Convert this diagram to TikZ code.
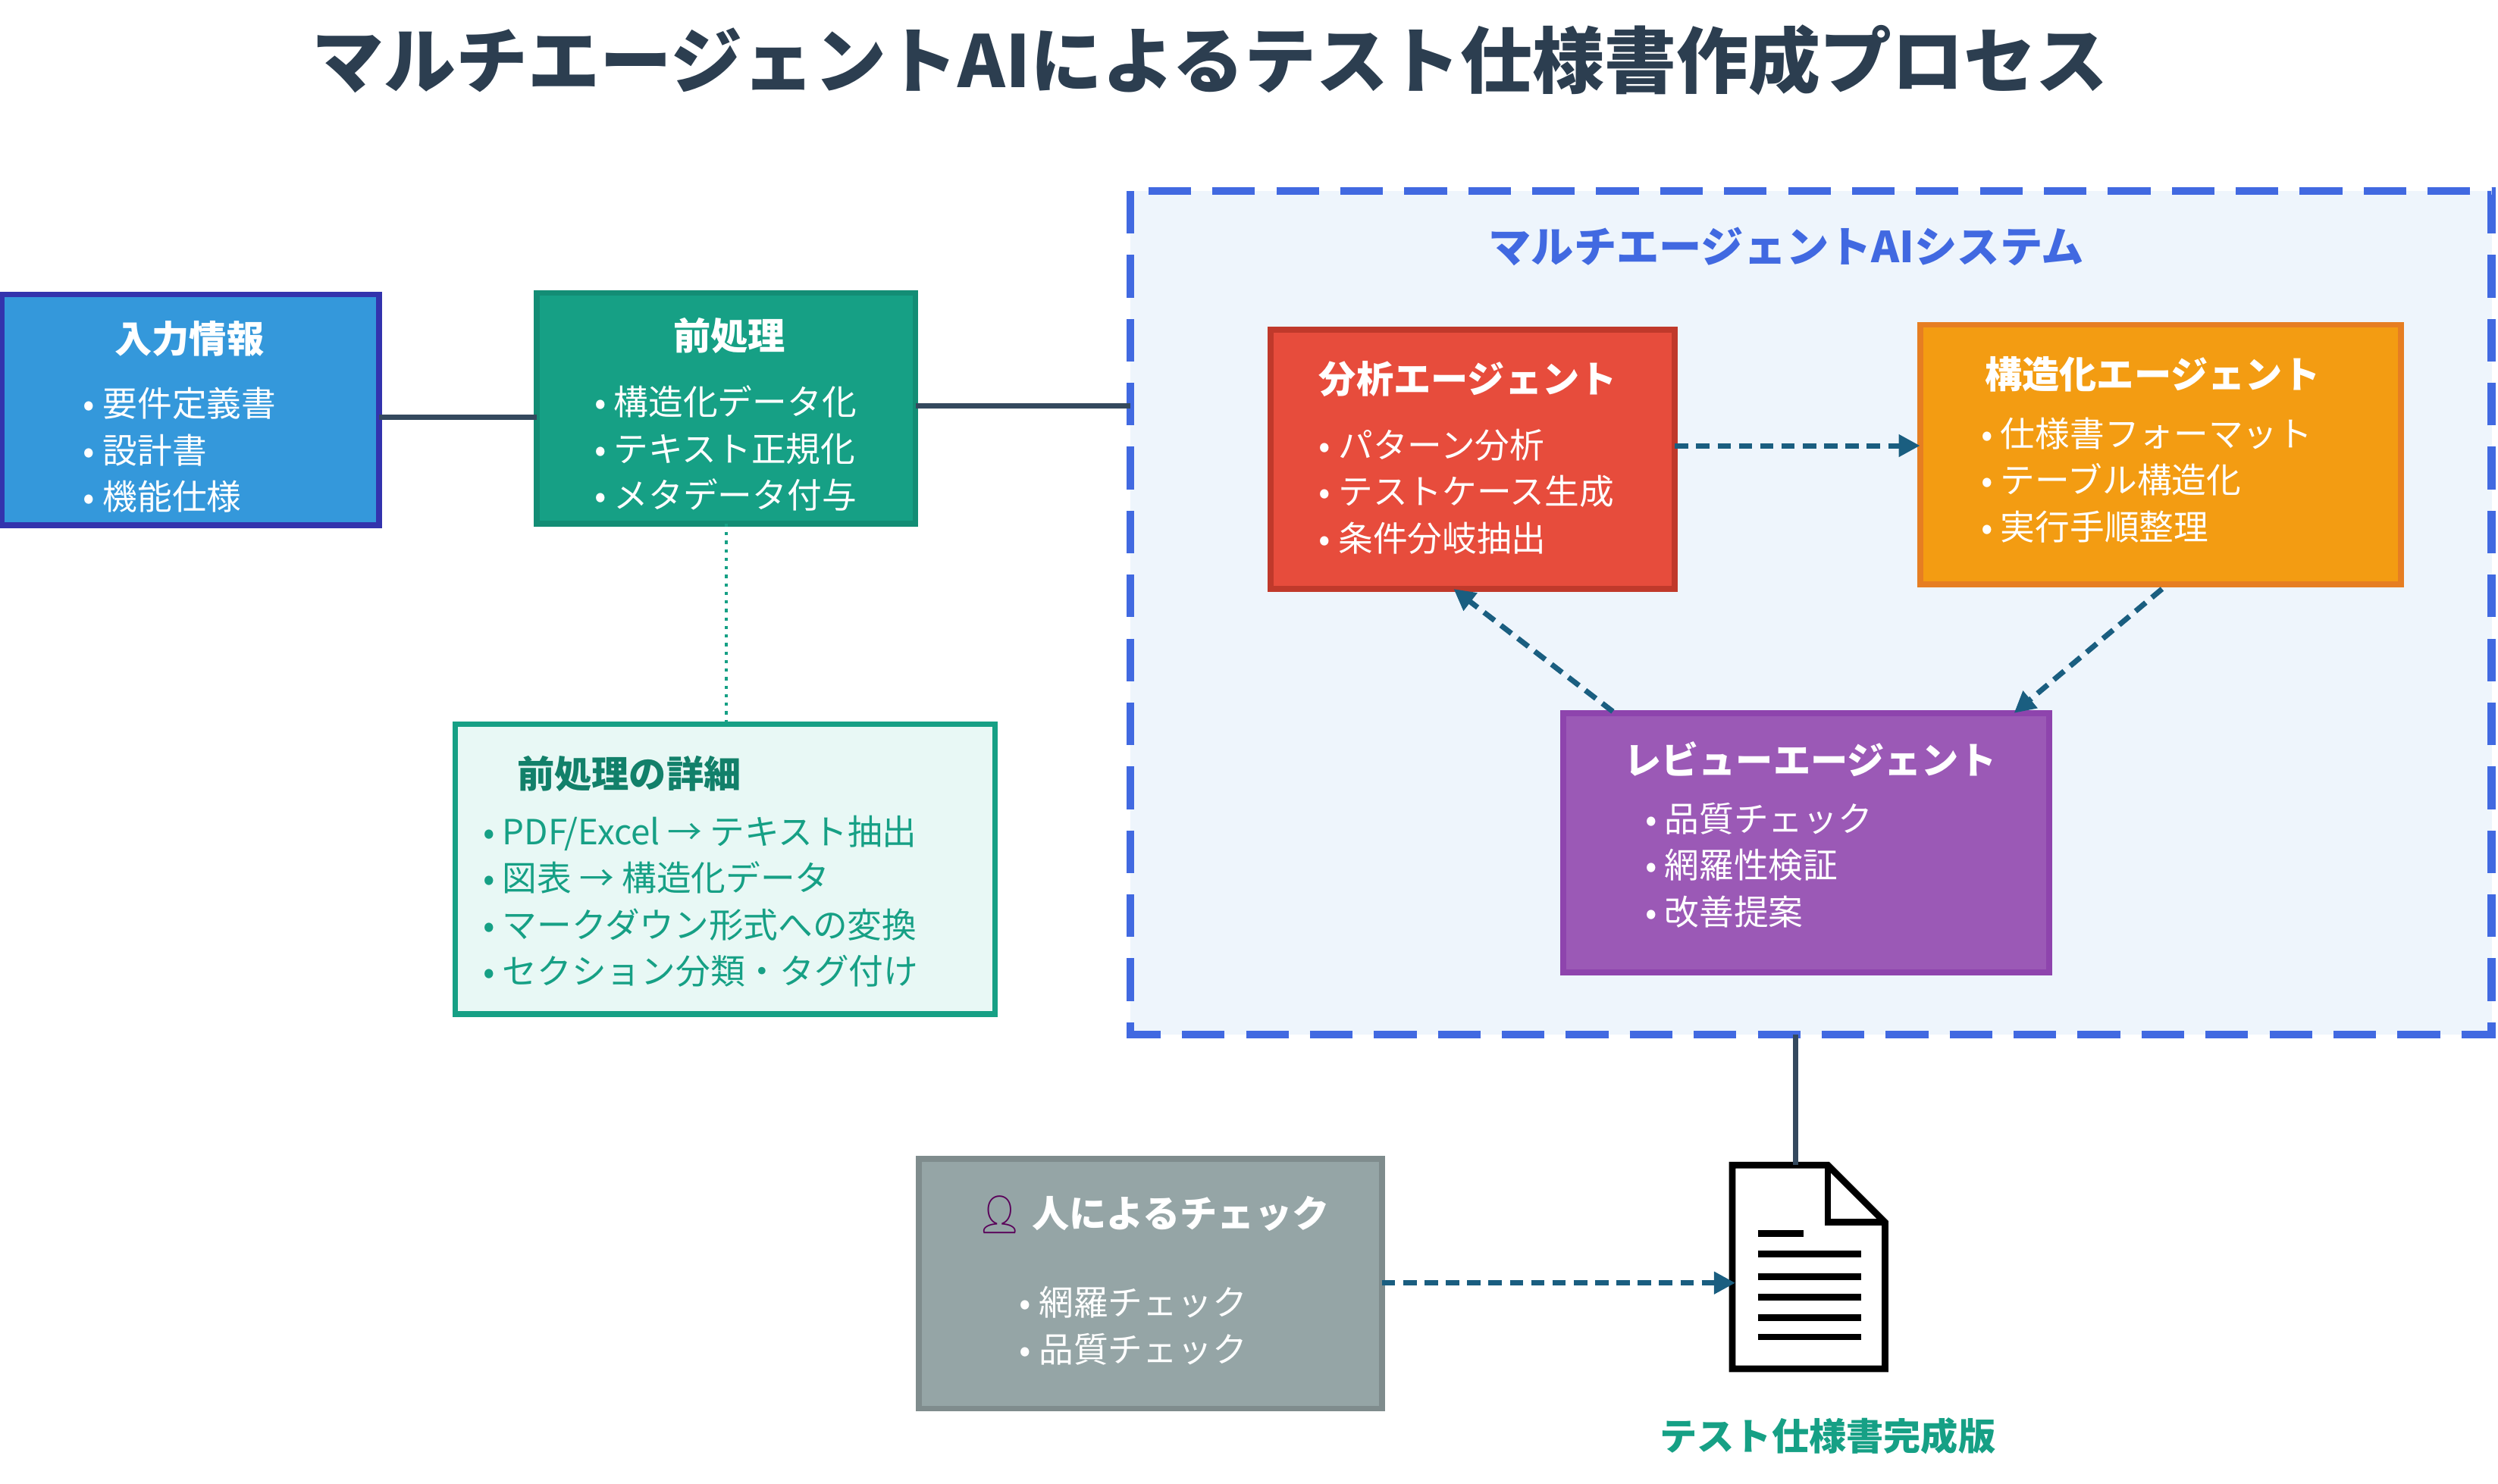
\documentclass[tikz,border=0pt]{standalone}
\usepackage{fontspec}
\setmainfont{Noto Sans CJK JP}
\newfontfamily\emo{Noto Emoji}
\usetikzlibrary{arrows.meta}
\definecolor{ttl}{HTML}{2C3E50}
\definecolor{ln}{HTML}{34495E}
\definecolor{arr}{HTML}{1A5E80}
\definecolor{sysb}{HTML}{4169E1}
\definecolor{sysf}{HTML}{EEF5FC}
\definecolor{grn}{HTML}{16A085}
\tikzset{
 x=0.021cm,y=-0.021cm,
 box/.style={draw, line width=2.2pt, inner sep=0},
 hd/.style={font=\fontsize{14}{16}\selectfont\bfseries, text=white},
 bl/.style={font=\fontsize{13}{17.5}\selectfont, text=white, align=left, anchor=north west, inner sep=0},
 darr/.style={draw=arr, line width=2pt, dashed, dash pattern=on 5pt off 3pt, -{Triangle[length=8pt,width=8pt]}},
 solid line/.style={draw=ln, line width=2pt}
}
\begin{document}
\begin{tikzpicture}
\useasboundingbox (0,0) rectangle (1569,932);
\node[font=\fontsize{27}{30}\selectfont\bfseries, text=ttl] (title) at (760,38) {マルチエージェントAIによるテスト仕様書作成プロセス};
% system
\path[draw=sysb, fill=sysf, line width=3pt, dash pattern=on 16pt off 8pt] (710,120) rectangle (1565,650);
\coordinate (sysL) at (710,255);
\coordinate (sysB) at (1128,650);
\node[font=\fontsize{16}{18}\selectfont\bfseries, text=sysb] (systitle) at (1122,155) {マルチエージェントAIシステム};
% input
\draw[box, draw=blue!60!black!80, fill={rgb,255:red,52;green,152;blue,219}] (1,185) rectangle (238,330);
\coordinate (inR) at (238,262);
\node[hd] (inT) at (119,213) {入力情報};
\node[bl] (inB) at (52,243) {• 要件定義書\\• 設計書\\• 機能仕様};
% preprocess
\draw[box, draw={rgb,255:red,19;green,141;blue,117}, fill=grn] (337,184) rectangle (575,329);
\coordinate (ppL) at (337,262);
\coordinate (ppR) at (575,255);
\coordinate (ppB) at (456,329);
\node[hd] (ppT) at (458,211) {前処理};
\node[bl] (ppB2) at (373,242) {• 構造化データ化\\• テキスト正規化\\• メタデータ付与};
% detail
\draw[box, draw=grn, fill={rgb,255:red,232;green,248;blue,245}] (286,455) rectangle (625,637);
\coordinate (dtT) at (456,455);
\node[hd, text=grn!80!black, anchor=west] (dtH) at (319,486) {前処理の詳細};
\node[bl, text=grn] (dtB) at (303,512) {• PDF/Excel → テキスト抽出\\• 図表 → 構造化データ\\• マークダウン形式への変換\\• セクション分類・タグ付け};
% analysis
\draw[box, draw={rgb,255:red,192;green,57;blue,43}, fill={rgb,255:red,231;green,76;blue,60}] (798,207) rectangle (1052,370);
\coordinate (anR) at (1052,280);
\coordinate (anB) at (913,370);
\node[hd] (anT) at (922,238) {分析エージェント};
\node[bl] (anB2) at (828,269) {• パターン分析\\• テストケース生成\\• 条件分岐抽出};
% structure
\draw[box, draw={rgb,255:red,230;green,126;blue,34}, fill={rgb,255:red,243;green,156;blue,18}] (1206,204) rectangle (1508,367);
\coordinate (stL) at (1206,280);
\coordinate (stB) at (1358,370);
\node[hd] (stT) at (1352,235) {構造化エージェント};
\node[bl] (stB2) at (1244,262) {• 仕様書フォーマット\\• テーブル構造化\\• 実行手順整理};
% review
\draw[box, draw={rgb,255:red,142;green,68;blue,173}, fill={rgb,255:red,155;green,89;blue,182}] (982,448) rectangle (1287,611);
\coordinate (rvTR) at (1265,448);
\coordinate (rvTL) at (1013,447);
\node[hd] (rvT) at (1137,477) {レビューエージェント};
\node[bl] (rvB) at (1033,504) {• 品質チェック\\• 網羅性検証\\• 改善提案};
% human
\draw[box, draw={rgb,255:red,127;green,140;blue,141}, fill={rgb,255:red,149;green,165;blue,166}] (577,728) rectangle (868,885);
\coordinate (huR) at (868,806);
\node[hd] (huT) at (724,763) {{\emo\textcolor{violet!70!black}{👤}} 人によるチェック};
\node[bl] (huB) at (640,808) {• 網羅チェック\\• 品質チェック};
% document
\draw[line width=2.5pt, fill=white, line join=miter] (1088,732) -- (1148,732) -- (1184,768) -- (1184,860) -- (1088,860) -- cycle;
\draw[line width=2.5pt] (1148,732) -- (1148,768) -- (1184,768);
\coordinate (docT) at (1128,732);
\coordinate (docL) at (1090,806);
\foreach \yy in {788,802,815,828,840} \draw[line width=2.5pt] (1104,\yy) -- (1169,\yy);
\draw[line width=2.5pt] (1104,775) -- (1133,775);
\node[font=\fontsize{14}{16}\selectfont\bfseries, text=grn] (docLabel) at (1148,902) {テスト仕様書完成版};
% connectors
\draw[solid line] (inR) -- (ppL);
\draw[solid line] (ppR) -- (sysL);
\draw[draw=grn, line width=1.2pt, dotted] (ppB) -- (dtT);
\draw[darr] (anR) -- (stL);
\draw[darr] (stB) -- (rvTR);
\draw[darr] (rvTL) -- (anB);
\draw[solid line] (sysB) -- (docT);
\draw[darr] (huR) -- (docL);
\end{tikzpicture}
\end{document}
